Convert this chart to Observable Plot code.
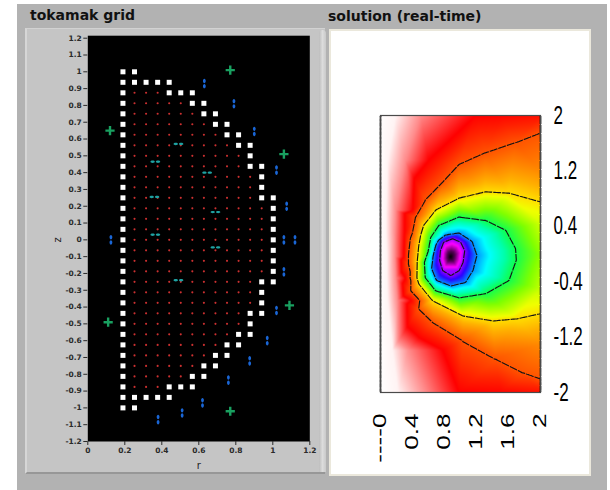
<!DOCTYPE html>
<html><head><meta charset="utf-8">
<script src="https://cdn.jsdelivr.net/npm/d3@7"></script>
<script src="https://cdn.jsdelivr.net/npm/@observablehq/plot@0.6"></script>
<style>
html,body{margin:0;padding:0;background:#fff;width:610px;height:490px;overflow:hidden;}
#bg{position:absolute;left:17px;top:4px;width:590px;height:486px;background:#b2b2b2;}
.title{position:absolute;font-family:"DejaVu Sans",sans-serif;font-weight:bold;font-size:14px;color:#111;white-space:nowrap;}
#lpanel{position:absolute;left:25px;top:28px;width:300px;height:446px;background:#c5c5c5;box-sizing:border-box;border-left:2px solid #d6d6d6;border-top:1px solid #d2d2d2;border-bottom:2px solid #979797;}
#lstrip{position:absolute;left:319px;top:30px;width:7px;height:442px;border-radius:4px 4px 0 0;background:linear-gradient(to right,#bdbdbd,#dcdcdc,#c9c9c9);}
#rpanel{position:absolute;left:329px;top:29px;width:262px;height:447px;background:#fff;border:2px solid #ebe8dc;box-sizing:border-box;}
.holder{position:absolute;}
</style></head><body>
<div id="bg"></div>
<div id="lpanel"></div>
<div id="lstrip"></div>
<div id="rpanel"></div>
<div class="title" style="left:30px;top:7px;">tokamak grid</div>
<div class="title" style="left:328px;top:8px;">solution (real-time)</div>
<div class="holder" id="left" style="left:25px;top:28px;"></div>
<div class="holder" id="right" style="left:330px;top:30px;"></div>
<script>
// ---------------- left chart data: tokamak grid ----------------
const gridR = [0.19,0.2525,0.315,0.3775,0.44,0.5025,0.565,0.6275,0.69,0.7525,0.815,0.8775,0.94,1.0025];
const gridZ = [1,0.9375,0.875,0.8125,0.75,0.6875,0.625,0.5625,0.5,0.4375,0.375,0.3125,0.25,0.1875,0.125,0.0625,0];
const rowLastInterior = [0,0,3,5,6,7,8,9,10,10,11,11,11,12,12,12,12];
const rowWallCols = [[0,1],[0,1,2,3,4],[0,4,5,6],[0,6,7],[0,7,8],[0,8,9],[0,9,10],[0,10,11],[0,11],[0,11,12],[0,12],[0,12],[0,12,13],[0,13],[0,13],[0,13],[0,13]];
const pfCoils = [[0.77,1.01],[0.12,0.65],[1.06,0.51],[1.09,-0.39],[0.11,-0.49],[0.77,-1.02]];
const fluxLoops = [[0.63,0.93],[0.79,0.81],[0.90,0.645],[1.02,0.415],[1.075,0.20],[1.06,0],[1.12,0],[0.125,0],[1.06,-0.19],[1.02,-0.42],[0.97,-0.60],[0.875,-0.72],[0.76,-0.835],[0.62,-0.97],[0.51,-1.03],[0.38,-1.07]];
const probes = [[0.49,0.57],[0.365,0.465],[0.645,0.40],[0.36,0.255],[0.69,0.165],[0.365,0.03],[0.69,-0.045],[0.49,-0.24]];
const xTicksL = [0,0.2,0.4,0.6,0.8,1,1.2];
const yTicksL = [1.2,1.1,1,0.9,0.8,0.7,0.6,0.5,0.4,0.3,0.2,0.1,0,-0.1,-0.2,-0.3,-0.4,-0.5,-0.6,-0.7,-0.8,-0.9,-1,-1.1,-1.2];

// ---------------- right chart data: solution field ----------------
const psiAxis = [0.875,-0.04];
const psiLevelValues = {c1:0.15,c2:0.27,c3:0.45,c4:0.62,c5:0.76,red:0.86,pink:0.94,white:0.99};
const psiC1 = [[0.90,0.22],[1.00,0.17],[1.05,0.05],[1.03,-0.12],[0.98,-0.24],[0.88,-0.31],[0.78,-0.24],[0.74,-0.09],[0.75,0.05],[0.79,0.17]];
const psiC2 = [[0.66,-0.02],[0.69,0.12],[0.81,0.27],[0.98,0.30],[1.14,0.18],[1.20,-0.02],[1.15,-0.24],[1.06,-0.41],[0.88,-0.46],[0.70,-0.38],[0.64,-0.21]];
const psiC3 = [[0.60,0.05],[0.63,0.24],[0.73,0.41],[0.98,0.53],[1.31,0.48],[1.56,0.34],[1.68,0.08],[1.69,-0.09],[1.60,-0.38],[1.31,-0.57],[0.98,-0.63],[0.69,-0.53],[0.56,-0.34],[0.55,-0.12]];
const psiC4 = [[2.00,0.74],[1.60,0.87],[1.31,0.89],[0.98,0.80],[0.69,0.63],[0.54,0.41],[0.48,0.12],[0.46,-0.12],[0.48,-0.43],[0.65,-0.67],[1.03,-0.89],[1.40,-0.96],[1.69,-0.93],[2.00,-0.85]];
const psiC5 = [[2.00,1.74],[1.69,1.60],[1.31,1.45],[0.98,1.28],[0.78,1.03],[0.56,0.77],[0.44,0.53],[0.40,0.30],[0.35,-0.02],[0.35,-0.14],[0.38,-0.53],[0.48,-0.79],[0.66,-0.99],[1.03,-1.25],[1.44,-1.51],[1.78,-1.71],[2.00,-1.80]];
const psiRed = [[1.19,2.00],[0.60,1.35],[0.40,0.63],[0.30,0.30],[0.29,-0.04],[0.31,-0.35],[0.38,-0.67],[0.78,-1.39],[0.98,-2.00]];
const psiPink = [[0.50,2.00],[0.31,1.35],[0.19,0.63],[0.18,0.30],[0.18,-0.04],[0.19,-0.35],[0.21,-0.67],[0.35,-1.39],[0.56,-2.00]];
const psiWhite = [[0.19,2.00],[0.09,1.35],[0.07,0.63],[0.07,0.30],[0.08,-0.04],[0.08,-0.35],[0.09,-0.67],[0.15,-1.39],[0.22,-2.00]];
const psiEdge = [[0,2,1],[0,1.35,1],[0,0.63,1],[0,0.30,1],[0,-0.04,1],[0,-0.35,1],[0,-0.67,1],[0,-1.39,1],[0,-2,1],[1.5,2,0.855],[2,2,0.84],[1.5,-2,0.855],[2,-2,0.84],[2,1.2,0.70],[2,0.45,0.58],[2,0,0.53],[2,-0.5,0.57],[2,-1.3,0.70]];
const contourLevels = [0.152,0.272,0.452,0.622,0.762];
const colorStops = [0,0.05,0.11,0.15,0.2,0.27,0.33,0.4,0.45,0.52,0.6,0.62,0.66,0.7,0.76,0.82,0.86,0.94,0.99,1];
const colorRamp = ["#000000","#5a005a","#ff00ff","#9a00ff","#2a00ff","#0090ff","#00ffff","#00ffaa","#10ff50","#80ff00","#f0ff00","#ffe000","#ffb000","#ff8a00","#ff5500","#ff2000","#ff0000","#ff8c8c","#fff4f4","#ffffff"];
const xTicksR = [0,0.4,0.8,1.2,1.6,2];
const yTicksR = [2,1.2,0.4,-0.4,-1.2,-2];

// ---------------- build tables ----------------
const wall = [], interior = [];
gridZ.forEach((z, k) => {
  const zs = z === 0 ? [0] : [z, -z];
  for (const zz of zs) {
    for (const c of rowWallCols[k]) wall.push({r: gridR[c], z: zz});
    for (let c = 1; c <= rowLastInterior[k]; c++) interior.push({r: gridR[c], z: zz});
  }
});
const toRZ = a => a.map(([r, z]) => ({r, z}));

function ellipse(ctx, cx, cy, rx, ry) {
  const k = 0.5523;
  ctx.moveTo(cx + rx, cy);
  ctx.bezierCurveTo(cx + rx, cy + k * ry, cx + k * rx, cy + ry, cx, cy + ry);
  ctx.bezierCurveTo(cx - k * rx, cy + ry, cx - rx, cy + k * ry, cx - rx, cy);
  ctx.bezierCurveTo(cx - rx, cy - k * ry, cx - k * rx, cy - ry, cx, cy - ry);
  ctx.bezierCurveTo(cx + k * rx, cy - ry, cx + rx, cy - k * ry, cx + rx, cy);
  ctx.closePath();
}
const symVPair = {draw(ctx) { ellipse(ctx, 0, -2.6, 1.4, 2.2); ellipse(ctx, 0, 2.6, 1.4, 2.2); }};
const symHPair = {draw(ctx) { ellipse(ctx, -2.7, 0, 2.2, 1.2); ellipse(ctx, 2.7, 0, 2.2, 1.2); }};
const symSquare = {draw(ctx) { ctx.rect(-2.5, -2.5, 5, 5); }};
const symPlus = {draw(ctx) {
  const a = 4.6, b = 1.2;
  const p = [[-b,-a],[b,-a],[b,-b],[a,-b],[a,b],[b,b],[b,a],[-b,a],[-b,b],[-a,b],[-a,-b],[-b,-b]];
  ctx.moveTo(p[0][0], p[0][1]);
  for (let i = 1; i < p.length; i++) ctx.lineTo(p[i][0], p[i][1]);
  ctx.closePath();
}};

const fmt = d => String(+(+d).toFixed(1));

const left = Plot.plot({
  width: 297, height: 444,
  marginLeft: 62.3, marginRight: 12.7, marginTop: 9.7, marginBottom: 31,
  style: {background: "transparent", fontFamily: "DejaVu Sans, sans-serif", fontSize: "7.5px", fontWeight: "bold", color: "#2a2a2a", overflow: "visible"},
  x: {domain: [0, 1.2]},
  y: {domain: [-1.2, 1.2]},
  marks: [
    Plot.frame({fill: "black", insetTop: -2.5}),
    Plot.axisX({ticks: xTicksL, tickSize: 4, tickPadding: 2, tickFormat: fmt, label: "r", labelAnchor: "center", labelOffset: 27, labelArrow: "none"}),
    Plot.axisY({ticks: yTicksL, tickSize: 4, tickPadding: 2, tickFormat: fmt, label: "z", labelAnchor: "center", labelOffset: 34, labelArrow: "none"}),
    Plot.dot(interior, {x: "r", y: "z", r: 1.05, fill: "#cc3030"}),
    Plot.dot(wall, {x: "r", y: "z", symbol: symSquare, fill: "#ffffff", stroke: "none"}),
    Plot.dot(toRZ(fluxLoops), {x: "r", y: "z", symbol: symVPair, fill: "#1a66d6", stroke: "none"}),
    Plot.dot(toRZ(probes), {x: "r", y: "z", symbol: symHPair, fill: "#1fa3a3", stroke: "none"}),
    Plot.dot(toRZ(pfCoils), {x: "r", y: "z", symbol: symPlus, fill: "#19a060", stroke: "none"})
  ]
});
document.getElementById("left").appendChild(left);
d3.select(left).selectAll('g[aria-label="x-axis label"] text, g[aria-label="y-axis label"] text')
  .style("font-size", "10px").style("font-weight", "normal").style("fill", "#222");

// right field samples
const fieldPts = [{x: psiAxis[0], y: psiAxis[1], v: 0}];
const addSet = (arr, v) => arr.forEach(([x, y]) => fieldPts.push({x, y, v}));
addSet(psiC1, psiLevelValues.c1);
addSet(psiC2, psiLevelValues.c2);
addSet(psiC3, psiLevelValues.c3);
addSet(psiC4, psiLevelValues.c4);
addSet(psiC5, psiLevelValues.c5);
addSet(psiRed, psiLevelValues.red);
addSet(psiPink, psiLevelValues.pink);
addSet(psiWhite, psiLevelValues.white);
psiEdge.forEach(([x, y, v]) => fieldPts.push({x, y, v}));

const right = Plot.plot({
  width: 260, height: 445,
  marginLeft: 50, marginRight: 50, marginTop: 85, marginBottom: 83,
  style: {background: "transparent", fontFamily: "Liberation Sans, Arial, sans-serif", color: "#000", overflow: "visible"},
  x: {domain: [0, 2]},
  y: {domain: [-2, 2]},
  color: {type: "linear", domain: colorStops, range: colorRamp, interpolate: "rgb", clamp: true},
  marks: [
    Plot.raster(fieldPts, {x: "x", y: "y", fill: "v", x1: 0, x2: 2, y1: -2, y2: 2, interpolate: "barycentric", pixelSize: 1}),
    Plot.contour(fieldPts, {x: "x", y: "y", value: "v", x1: 0, x2: 2, y1: -2, y2: 2, interpolate: "barycentric", pixelSize: 1, thresholds: contourLevels, stroke: "#141414", strokeWidth: 1.15, strokeDasharray: "8,1", fill: "none"}),
    Plot.frame({stroke: "#4a4a4a", strokeWidth: 1.2}),
    Plot.axisY({anchor: "right", ticks: yTicksR, tickSize: 0, tickPadding: 13, fontSize: 25, tickFormat: fmt, label: null}),
    Plot.axisX({ticks: xTicksR, tickSize: 0, tickPadding: 21, tickRotate: -90, fontSize: 18, tickFormat: d => d === 0 ? "----0" : fmt(d), label: null})
  ]
});
document.getElementById("right").appendChild(right);
const rsel = d3.select(right);
rsel.selectAll('g[aria-label="y-axis tick label"] text').each(function() {
  this.setAttribute("transform", (this.getAttribute("transform") || "") + " scale(0.68,1)");
});
rsel.selectAll('g[aria-label="x-axis tick label"] text').each(function() {
  this.setAttribute("transform", (this.getAttribute("transform") || "") + " scale(1.45,1)");
});
</script>
</body></html>
